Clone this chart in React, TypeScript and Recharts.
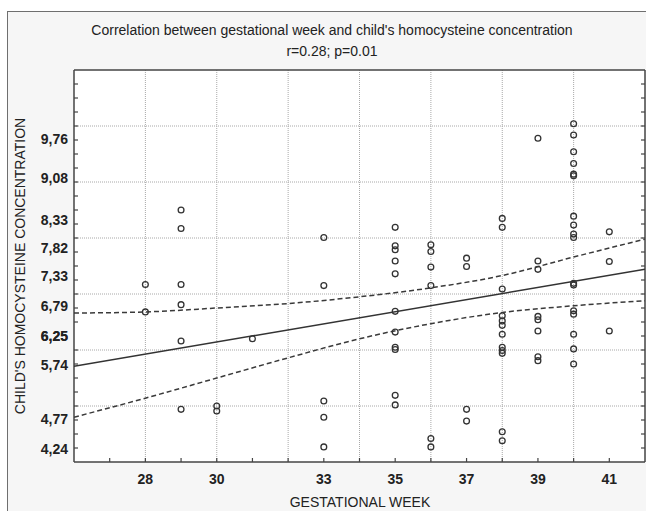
import React from "react";
import { CartesianGrid, ComposedChart, Scatter, XAxis, YAxis } from "recharts";

// gestational weeks that have measurements, and the concentrations read for each week
const weeks = [28, 29, 30, 31, 33, 35, 36, 37, 38, 39, 40, 41];
const concentrations = [
  [7.17, 6.68],
  [8.5, 8.17, 7.17, 6.81, 6.16, 4.94],
  [5.0, 4.91],
  [6.2],
  [8.01, 7.15, 5.09, 4.8, 4.27],
  [8.19, 7.86, 7.79, 7.59, 7.36, 6.69, 6.32, 6.05, 6.01, 5.19, 5.02],
  [7.88, 7.76, 7.48, 7.15, 4.42, 4.27],
  [7.64, 7.49, 4.94, 4.73],
  [8.35, 8.19, 7.09, 6.61, 6.52, 6.44, 6.28, 6.05, 5.99, 5.94, 4.54, 4.38],
  [9.78, 7.59, 7.44, 6.6, 6.54, 6.34, 5.88, 5.81],
  [10.04, 9.84, 9.54, 9.33, 9.14, 9.11, 8.39, 8.23, 8.07, 8.01, 7.19, 7.16, 6.7, 6.64, 6.28, 6.02, 5.75],
  [8.11, 7.58, 6.34],
];

// regression line and its 95% band
const fitWeeks = [26, 42];
const fitValues = [5.71, 7.44];
const bandWeeks = [26, 28, 30, 32, 34, 36, 38, 40, 42];
const upperBand = [6.66, 6.68, 6.75, 6.83, 6.95, 7.11, 7.33, 7.66, 7.98];
const lowerBand = [4.8, 5.14, 5.5, 5.86, 6.2, 6.47, 6.67, 6.79, 6.88];

const xTickLabels = [28, 30, 33, 35, 37, 39, 41];
const xGridValues = [28, 30, 32, 34, 36, 38, 40];
const yTickLabels = [4.24, 4.77, 5.74, 6.25, 6.79, 7.33, 7.82, 8.33, 9.08, 9.76];
const yGridValues = [5, 6, 7, 8, 9, 10];

const xMinorTicks = Array.from({ length: 15 }, (_, i) => 27 + i);
const yMinorTicks = Array.from({ length: 27 }, (_, i) => 4.25 + i * 0.25);

const FONT = '"Liberation Sans", Arial, sans-serif';
const FRAME = "#444";
const INK = "#222";

const points = weeks.flatMap((week, i) =>
  concentrations[i].map((value) => ({ week, value })),
);
const fitData = fitWeeks.map((week, i) => ({ week, value: fitValues[i] }));
const upperData = bandWeeks.map((week, i) => ({ week, value: upperBand[i] }));
const lowerData = bandWeeks.map((week, i) => ({ week, value: lowerBand[i] }));

const noShape = () => <g />;

const BottomTick = (props: any) => {
  const { x, y, payload } = props;
  const v = payload.value;
  return (
    <g>
      <line x1={x} y1={y} x2={x} y2={y - 4} stroke={FRAME} strokeWidth={1.2} />
      {xTickLabels.includes(v) && (
        <text
          x={x}
          y={y + 22}
          textAnchor="middle"
          fontFamily={FONT}
          fontSize={14}
          fontWeight="bold"
          fill={INK}
        >
          {v}
        </text>
      )}
    </g>
  );
};

const TopTick = (props: any) => {
  const { x, y } = props;
  return <line x1={x} y1={y} x2={x} y2={y + 4} stroke={FRAME} strokeWidth={1.2} />;
};

const LeftTick = (props: any) => {
  const { x, y, payload } = props;
  const v = payload.value;
  if (yTickLabels.includes(v)) {
    return (
      <text
        x={x - 6}
        y={y}
        dy="0.36em"
        textAnchor="end"
        fontFamily={FONT}
        fontSize={14}
        fontWeight="bold"
        fill={INK}
      >
        {v.toFixed(2).replace(".", ",")}
      </text>
    );
  }
  return <line x1={x} y1={y} x2={x + 4} y2={y} stroke={FRAME} strokeWidth={1.2} />;
};

const RightTick = (props: any) => {
  const { x, y } = props;
  return <line x1={x} y1={y} x2={x - 4} y2={y} stroke={FRAME} strokeWidth={1.2} />;
};

const Ring = (props: any) => (
  <circle cx={props.cx} cy={props.cy} r={2.9} fill="none" stroke="#333" strokeWidth={1.3} />
);

const textStyle: React.CSSProperties = {
  position: "absolute",
  fontFamily: FONT,
  fontSize: 14,
  lineHeight: "14px",
  color: INK,
  textAlign: "center",
  whiteSpace: "nowrap",
};

export default function App() {
  return (
    <div
      style={{
        position: "relative",
        width: 646,
        height: 511,
        overflow: "hidden",
        background: "#fff",
      }}
    >
      <style>{"body{margin:0}"}</style>
      <div
        style={{
          position: "absolute",
          left: 7,
          top: 11,
          width: 700,
          height: 600,
          border: "1.5px solid #6f6f6f",
          background: "#f6f6f6",
        }}
      />
      <div style={{ ...textStyle, left: 0, width: 664, top: 23 }}>
        Correlation between gestational week and child's homocysteine concentration
      </div>
      <div style={{ ...textStyle, left: 0, width: 664, top: 44 }}>r=0.28; p=0.01</div>
      <div style={{ ...textStyle, left: 160, width: 400, top: 495 }}>GESTATIONAL WEEK</div>
      <div
        style={{
          ...textStyle,
          left: 20 - 200,
          width: 400,
          top: 266 - 7,
          transform: "rotate(-90deg)",
        }}
      >
        CHILD'S HOMOCYSTEINE CONCENTRATION
      </div>

      <div style={{ position: "absolute", left: 0, top: 0 }}>
        <ComposedChart
          width={646}
          height={511}
          margin={{ top: 69, right: 0, bottom: 0, left: 0 }}
        >
          <CartesianGrid
            fill="#fff"
            stroke="#a8a8a8"
            strokeDasharray="1 1"
            verticalValues={xGridValues}
            horizontalValues={yGridValues}
          />
          <XAxis
            type="number"
            dataKey="week"
            domain={[26, 42]}
            ticks={[...xMinorTicks]}
            interval={0}
            height={49}
            tickSize={0}
            tickMargin={0}
            tickLine={false}
            axisLine={{ stroke: FRAME, strokeWidth: 1.5 }}
            tick={<BottomTick />}
            allowDataOverflow
          />
          <XAxis
            xAxisId="top"
            orientation="top"
            type="number"
            domain={[26, 42]}
            ticks={[...xMinorTicks]}
            interval={0}
            height={1}
            tickSize={0}
            tickMargin={0}
            tickLine={false}
            axisLine={{ stroke: FRAME, strokeWidth: 1.5 }}
            tick={<TopTick />}
            allowDataOverflow
          />
          <YAxis
            type="number"
            dataKey="value"
            domain={[4, 11]}
            ticks={[...yMinorTicks, ...yTickLabels]}
            interval={0}
            width={74}
            tickSize={0}
            tickMargin={0}
            tickLine={false}
            axisLine={{ stroke: FRAME, strokeWidth: 1.5 }}
            tick={<LeftTick />}
            allowDataOverflow
          />
          <YAxis
            yAxisId="right"
            orientation="right"
            type="number"
            domain={[4, 11]}
            ticks={[...yMinorTicks]}
            interval={0}
            width={1}
            tickSize={0}
            tickMargin={0}
            tickLine={false}
            axisLine={{ stroke: FRAME, strokeWidth: 1.5 }}
            tick={<RightTick />}
            allowDataOverflow
          />
          <Scatter
            data={upperData}
            shape={noShape}
            line={{ stroke: "#3a3a3a", strokeWidth: 1.5, strokeDasharray: "5 3" }}
            lineJointType="monotoneX"
            isAnimationActive={false}
          />
          <Scatter
            data={lowerData}
            shape={noShape}
            line={{ stroke: "#3a3a3a", strokeWidth: 1.5, strokeDasharray: "5 3" }}
            lineJointType="monotoneX"
            isAnimationActive={false}
          />
          <Scatter
            data={fitData}
            shape={noShape}
            line={{ stroke: "#333", strokeWidth: 1.5 }}
            isAnimationActive={false}
          />
          <Scatter data={points} shape={<Ring />} isAnimationActive={false} />
        </ComposedChart>
      </div>
    </div>
  );
}
